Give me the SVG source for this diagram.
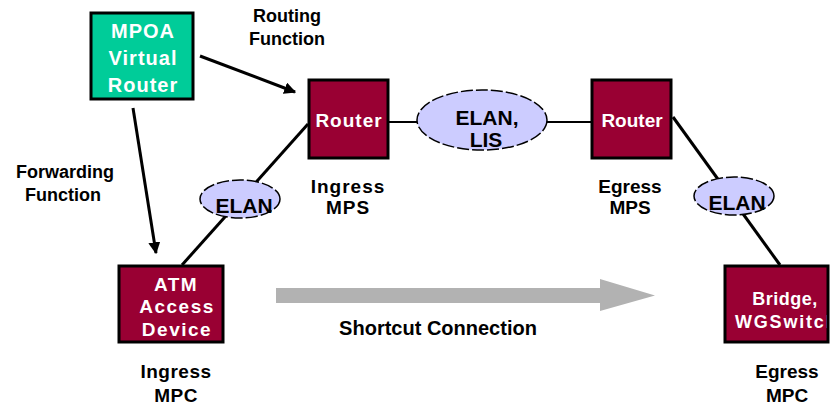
<svg xmlns="http://www.w3.org/2000/svg" width="831" height="406" viewBox="0 0 831 406">
<defs>
<style>
text{font-family:"Liberation Sans",Arial,sans-serif;font-weight:bold;text-anchor:middle}
.box{fill:#990033;stroke:#000;stroke-width:3}
.boxfill{fill:#990033}
.boxline{fill:none;stroke:#000;stroke-width:3}
.wt{fill:#fff;font-size:19px;letter-spacing:1px}
.lbl{fill:#000;font-size:19px}
.elan{fill:#CCCCFF;stroke:#000;stroke-width:1.5;stroke-dasharray:12 3}
.et{fill:#000;font-size:21px}
.link{stroke:#000;stroke-width:3;fill:none}
.arr{stroke:#000;stroke-width:3;fill:none;marker-end:url(#ah)}
</style>
<marker id="ah" viewBox="0 0 10 10" refX="9" refY="5" markerWidth="4" markerHeight="4" markerUnits="strokeWidth" orient="auto">
<path d="M0,0 L10,5 L0,10 Z" fill="#000"/>
</marker>
<clipPath id="bclip"><rect x="725" y="266" width="102" height="76"/></clipPath>
</defs>
<rect width="831" height="406" fill="#fff"/>

<g id="connectors">
<line class="arr" x1="200" y1="56" x2="295" y2="92"/>
<line class="arr" x1="133" y1="108" x2="156" y2="253"/>
<line class="link" x1="182" y1="265" x2="308" y2="124"/>
<line class="link" x1="388" y1="122" x2="593" y2="122" style="stroke-width:2"/>
<line class="link" x1="673" y1="117" x2="780" y2="265"/>
<polygon id="shortcut" points="276,288 600,288 600,279 655,295.5 600,311 600,303 276,303" fill="#B2B2B2"/>
</g>

<g id="mpoa">
<rect x="91" y="13" width="102" height="86" fill="#00CC99" stroke="#000" stroke-width="3"/>
<text class="wt" x="143" y="38" style="font-size:20px">MPOA</text>
<text class="wt" x="143" y="65" style="font-size:20px">Virtual</text>
<text class="wt" x="143" y="92" style="font-size:20px">Router</text>
</g>

<g id="ingress-router">
<rect class="box" x="309" y="80" width="79" height="78"/>
<text class="wt" x="349" y="127">Router</text>
</g>

<g id="egress-router">
<rect class="box" x="592" y="80" width="79" height="78"/>
<text class="wt" x="632" y="127" style="letter-spacing:0">Router</text>
</g>

<g id="elan-lis">
<ellipse class="elan" cx="482" cy="120" rx="65" ry="30"/>
<text class="et" x="487" y="125">ELAN,</text>
<text class="et" x="486" y="147">LIS</text>
</g>

<g id="elan-left">
<ellipse class="elan" cx="240" cy="199" rx="40" ry="19"/>
<text class="et" x="244" y="213">ELAN</text>
</g>

<g id="elan-right">
<ellipse class="elan" cx="734" cy="196" rx="40" ry="19"/>
<text class="et" x="737" y="210">ELAN</text>
</g>

<g id="atm-device">
<rect class="box" x="119" y="266" width="104" height="76"/>
<text class="wt" x="176" y="291" style="letter-spacing:1.5px">ATM</text>
<text class="wt" x="177" y="313" style="letter-spacing:1.5px">Access</text>
<text class="wt" x="177" y="336" style="letter-spacing:1.5px">Device</text>
</g>

<g id="bridge">
<rect class="boxfill" x="725" y="266" width="103" height="76"/>
<text class="wt" x="785" y="305" style="font-size:18px;letter-spacing:0.5px">Bridge,</text>
<text class="wt" x="735" y="328" clip-path="url(#bclip)" style="font-size:18px;letter-spacing:1.8px;text-anchor:start">WGSwitch</text>
<rect class="boxline" x="725" y="266" width="103" height="76"/>
</g>

<g id="labels">
<text class="lbl" x="287" y="22" style="font-size:18px">Routing</text>
<text class="lbl" x="287" y="45" style="font-size:18px">Function</text>
<text class="lbl" x="65" y="178" style="font-size:18px">Forwarding</text>
<text class="lbl" x="63" y="201" style="font-size:18px">Function</text>
<text class="lbl" x="348" y="193" style="letter-spacing:1px">Ingress</text>
<text class="lbl" x="348" y="214" style="letter-spacing:1px">MPS</text>
<text class="lbl" x="630" y="193">Egress</text>
<text class="lbl" x="630" y="214">MPS</text>
<text class="lbl" x="176" y="378" style="letter-spacing:0.5px">Ingress</text>
<text class="lbl" x="176" y="402" style="letter-spacing:0.5px">MPC</text>
<text class="lbl" x="787" y="378">Egress</text>
<text class="lbl" x="787" y="402">MPC</text>
<text class="lbl" x="438" y="335" style="font-size:20px">Shortcut Connection</text>
</g>
</svg>
